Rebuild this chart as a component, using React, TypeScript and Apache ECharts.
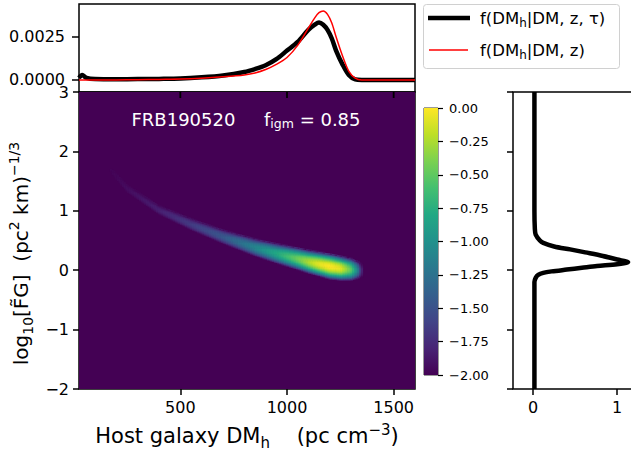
import React, { useEffect, useRef } from "react";
import * as echarts from "echarts";

const FONT = "DejaVu Sans";

// ---- top panel: f(DM_h | ...) curves ----
const topX = [25, 40, 60, 100, 200, 300, 400, 500, 600, 700, 800, 850, 900, 950, 1000, 1050, 1100, 1130, 1150, 1170, 1190, 1210, 1230, 1260, 1290, 1320, 1350, 1400, 1500, 1600];
const fWithTau = [0.00012, 0.00028, 0.00012, 0.00005, 0.00004, 0.00005, 0.00006, 0.00008, 0.00015, 0.00026, 0.00046, 0.00063, 0.00085, 0.0012, 0.0017, 0.0022, 0.0029, 0.0032, 0.00333, 0.0032, 0.0029, 0.0024, 0.0017, 0.0009, 0.00028, 0.00003, 0, 0, 0, 0];
const fNoTau = [0, 0, 0, 0, 0, 0.00001, 0.00003, 0.00005, 0.0001, 0.00018, 0.00029, 0.0004, 0.0006, 0.0009, 0.0013, 0.002, 0.003, 0.0036, 0.0039, 0.004, 0.0038, 0.0033, 0.0025, 0.0014, 0.0005, 0.0001, 0, 0, 0, 0];
const topYTicks = [0, 0.0025];
const dmTicks = [500, 1000, 1500];
const dmRange = [25, 1600];
const fgRange = [-2, 3];

// ---- right panel: marginal over log10 FG ----
const rightY = [3, 1.0, 0.7, 0.6, 0.5, 0.46, 0.4, 0.35, 0.3, 0.24, 0.18, 0.135, 0.1, 0.07, 0.04, 0.01, -0.02, -0.045, -0.08, -0.13, -0.2, -2];
const rightF = [0.015, 0.015, 0.02, 0.03, 0.08, 0.12, 0.25, 0.44, 0.62, 0.83, 1.0, 1.13, 1.0, 0.76, 0.58, 0.4, 0.22, 0.12, 0.06, 0.03, 0.015, 0.015];
const rightXTicks = [0, 1];

// ---- heatmap ridge: DM_h, centre log10 FG, peak log-density, half width to -2 ----
const ridgeX = [150, 250, 400, 550, 700, 850, 950, 1050, 1100, 1150, 1200, 1250, 1300, 1330, 1355];
const ridgeY = [1.78, 1.38, 1.02, 0.78, 0.57, 0.39, 0.29, 0.2, 0.15, 0.11, 0.07, 0.04, 0.02, 0.01, 0.0];
const ridgePeak = [-2.0, -1.93, -1.82, -1.65, -1.45, -1.1, -0.8, -0.45, -0.25, -0.08, 0, -0.08, -0.5, -1.1, -2.0];
const ridgeHalf = [0.06, 0.07, 0.08, 0.1, 0.12, 0.15, 0.17, 0.19, 0.2, 0.21, 0.22, 0.21, 0.19, 0.15, 0.1];

const colorbarRange = [-2, 0];
const VIRIDIS = ["#440154", "#482475", "#414487", "#355f8d", "#2a788e", "#21918c", "#22a884", "#44bf70", "#7ad151", "#bddf26", "#fde725"];

const HX = 8;
const HY = 0.02;

function lerp(xs: number[], ys: number[], x: number) {
  if (x <= xs[0]) return ys[0];
  for (let i = 1; i < xs.length; i++) {
    if (x <= xs[i]) {
      const t = (x - xs[i - 1]) / (xs[i] - xs[i - 1]);
      return ys[i - 1] + t * (ys[i] - ys[i - 1]);
    }
  }
  return ys[ys.length - 1];
}

function buildCells() {
  const cells: number[][] = [];
  for (let x = ridgeX[0]; x <= ridgeX[ridgeX.length - 1]; x += HX) {
    const ry = lerp(ridgeX, ridgeY, x);
    const pk = lerp(ridgeX, ridgePeak, x);
    const hw = lerp(ridgeX, ridgeHalf, x);
    for (let k = -25; k <= 120; k++) {
      const y = k * HY;
      const d = (y - ry) / hw;
      const v = pk - (pk + 2) * d * d;
      if (v > -1.985) cells.push([x, +y.toFixed(2), v]);
    }
  }
  return cells;
}

const minus = (s: string) => s.replace("-", "\u2212");

export default function App() {
  const ref = useRef<HTMLDivElement>(null);
  useEffect(() => {
    if (!ref.current) return;
    const chart = echarts.init(ref.current, undefined, { renderer: "svg" });
    const tickStyle = { color: "#000", width: 1.5 };
    const labelStyle = { color: "#000", fontFamily: FONT, fontSize: 16 };
    const noLine = { show: false, onZero: false };
    const gridBox = { show: true, borderColor: "#000", borderWidth: 1.5, backgroundColor: "transparent", outerBoundsMode: "none", containLabel: false };
    const nameRich = (size: number, small: number) => ({
      a: { fontFamily: FONT, fontSize: size, color: "#000", lineHeight: 28, verticalAlign: "middle" },
      s: { fontFamily: FONT, fontSize: small, color: "#000", lineHeight: 11, verticalAlign: "bottom" },
      p: { fontFamily: FONT, fontSize: small, color: "#000", lineHeight: 14, verticalAlign: "top" },
    });

    const option: any = {
      animation: false,
      backgroundColor: "#fff",
      textStyle: { fontFamily: FONT },
      grid: [
        { ...gridBox, left: 79, top: 4, width: 336, height: 88 },
        { ...gridBox, left: 79, top: 92, width: 336, height: 297 },
        { ...gridBox, left: 513, top: 92, width: 124, height: 297 },
        { ...gridBox, left: 424, top: 108, width: 14, height: 267, borderWidth: 0.8 },
      ],
      xAxis: [
        {
          gridIndex: 0, type: "value", min: dmRange[0], max: dmRange[1],
          axisLine: noLine, splitLine: { show: false },
          axisTick: { show: false }, axisLabel: { show: false },
        },
        {
          gridIndex: 1, type: "value", min: dmRange[0], max: dmRange[1],
          axisLine: noLine, splitLine: { show: false },
          axisTick: { show: true, customValues: dmTicks, length: 6, lineStyle: tickStyle },
          axisLabel: { ...labelStyle, customValues: dmTicks, margin: 10, formatter: (v: number) => String(v) },
          name: "{a|Host galaxy DM}{s|h}{a|    (pc cm}{p|\u22123}{a|)}",
          nameLocation: "middle", nameGap: 33,
          nameTextStyle: { rich: nameRich(21, 15) },
        },
        {
          gridIndex: 2, type: "value", min: -0.24, max: 1.236,
          axisLine: noLine, splitLine: { show: false },
          axisTick: { show: true, customValues: rightXTicks, length: 6, lineStyle: tickStyle },
          axisLabel: { ...labelStyle, customValues: rightXTicks, margin: 10, formatter: (v: number) => String(v) },
        },
        { gridIndex: 3, type: "value", min: 0, max: 1, show: false, axisLine: noLine },
      ],
      yAxis: [
        {
          gridIndex: 0, type: "value", min: -0.0007, max: 0.0044,
          axisLine: noLine, splitLine: { show: false },
          axisTick: { show: true, customValues: topYTicks, length: 7, lineStyle: tickStyle },
          axisLabel: { ...labelStyle, customValues: topYTicks, margin: 14, formatter: (v: number) => v.toFixed(4) },
        },
        {
          gridIndex: 1, type: "value", min: fgRange[0], max: fgRange[1], interval: 1,
          axisLine: noLine, splitLine: { show: false },
          axisTick: { show: true, length: 6, lineStyle: tickStyle },
          axisLabel: { ...labelStyle, margin: 10, formatter: (v: number) => minus(String(v)) },
          name: "{a|log}{s|10}{a|[F\u0303G]  (pc}{p|2}{a| km)}{p|\u22121/3}",
          nameLocation: "middle", nameRotate: 90, nameGap: 38,
          nameTextStyle: { rich: nameRich(20, 14), padding: [0, 26, 0, 0] },
        },
        {
          gridIndex: 2, type: "value", min: fgRange[0], max: fgRange[1], interval: 1,
          axisLine: noLine, splitLine: { show: false },
          axisTick: { show: true, length: 6, lineStyle: tickStyle },
          axisLabel: { show: false },
        },
        {
          gridIndex: 3, type: "value", min: -2, max: 0, interval: 0.25, position: "right",
          axisLine: noLine, splitLine: { show: false },
          axisTick: { show: true, length: 5, lineStyle: { color: "#000", width: 1.2 } },
          axisLabel: { color: "#000", fontFamily: FONT, fontSize: 13, margin: 11, formatter: (v: number) => minus(v.toFixed(2)) },
        },
      ],
      visualMap: {
        show: false, type: "continuous", seriesIndex: [3, 5], dimension: 2,
        min: colorbarRange[0], max: colorbarRange[1], inRange: { color: VIRIDIS },
      },
      series: [
        {
          type: "line", xAxisIndex: 0, yAxisIndex: 0, showSymbol: false, smooth: 0.3,
          data: topX.map((x, i) => [x, fWithTau[i]]),
          lineStyle: { color: "#000", width: 4.5 }, z: 3,
        },
        {
          type: "line", xAxisIndex: 0, yAxisIndex: 0, showSymbol: false, smooth: 0.3,
          data: topX.map((x, i) => [x, fNoTau[i]]),
          lineStyle: { color: "#ff0000", width: 1.5 }, z: 4,
        },
        {
          type: "line", xAxisIndex: 2, yAxisIndex: 2, showSymbol: false, smooth: 0.3,
          data: rightY.map((y, i) => [rightF[i], y]),
          lineStyle: { color: "#000", width: 4.5 },
        },
        {
          type: "custom", xAxisIndex: 1, yAxisIndex: 1, encode: { x: 0, y: 1 }, z: 2,
          data: buildCells(),
          renderItem: (_p: any, api: any) => {
            const x = api.value(0), y = api.value(1);
            const p1 = api.coord([x - HX / 2, y + HY / 2]);
            const p2 = api.coord([x + HX / 2, y - HY / 2]);
            return {
              type: "rect",
              shape: { x: p1[0], y: p1[1], width: p2[0] - p1[0] + 0.6, height: p2[1] - p1[1] + 0.6 },
              style: { fill: api.visual("color"), stroke: null },
            };
          },
        },
        {
          type: "custom", xAxisIndex: 3, yAxisIndex: 3, encode: { x: 0, y: 1 },
          data: [[0, colorbarRange[1], 1, colorbarRange[0]]],
          renderItem: (_p: any, api: any) => {
            const p1 = api.coord([api.value(0), api.value(1)]);
            const p2 = api.coord([api.value(2), api.value(3)]);
            return {
              type: "rect",
              shape: { x: p1[0], y: p1[1], width: p2[0] - p1[0], height: p2[1] - p1[1] },
              style: {
                fill: new echarts.graphic.LinearGradient(0, 1, 0, 0,
                  VIRIDIS.map((c, i) => ({ offset: i / (VIRIDIS.length - 1), color: c }))),
              },
            };
          },
        },
        {
          // background of the density map: the floor value -2 over the whole field
          type: "custom", xAxisIndex: 1, yAxisIndex: 1, encode: { x: 0, y: 1 }, z: 1,
          data: [[dmRange[0], fgRange[1], colorbarRange[0], dmRange[1], fgRange[0]]],
          renderItem: (_p: any, api: any) => {
            const p1 = api.coord([api.value(0), api.value(1)]);
            const p2 = api.coord([api.value(3), api.value(4)]);
            return {
              type: "rect",
              shape: { x: p1[0], y: p1[1], width: p2[0] - p1[0], height: p2[1] - p1[1] },
              style: { fill: api.visual("color") },
            };
          },
        },
        {
          // the upper panel's DM ticks, hanging below its bottom spine into the map
          type: "custom", xAxisIndex: 1, yAxisIndex: 1, encode: { x: 0, y: 1 }, z: 20, silent: true,
          data: dmTicks.map((v) => [v, fgRange[1]]),
          renderItem: (_p: any, api: any) => {
            const p = api.coord([api.value(0), api.value(1)]);
            return {
              type: "line",
              shape: { x1: p[0], y1: p[1], x2: p[0], y2: p[1] + 6 },
              style: { stroke: "#000", lineWidth: 1.8 },
            };
          },
        },
      ],
      graphic: [
        {
          type: "text", x: 246, y: 119, z: 10,
          style: {
            text: "{a|FRB190520     f}{s|igm}{a| = 0.85}",
            align: "center", verticalAlign: "middle", textAlign: "center", textVerticalAlign: "middle",
            rich: {
              a: { fontFamily: FONT, fontSize: 18, fill: "#fff", color: "#fff", lineHeight: 22, verticalAlign: "middle" },
              s: { fontFamily: FONT, fontSize: 12.5, fill: "#fff", color: "#fff", lineHeight: 9, verticalAlign: "bottom" },
            },
          },
        },
        {
          type: "rect", z: 10,
          shape: { x: 423.5, y: 4.5, width: 196, height: 64, r: 3 },
          style: { fill: "#fff", stroke: "#d0d0d0", lineWidth: 1 },
        },
        { type: "line", z: 11, shape: { x1: 428, y1: 18, x2: 470, y2: 18 }, style: { stroke: "#000", lineWidth: 4.5 } },
        { type: "line", z: 11, shape: { x1: 429, y1: 50, x2: 468, y2: 50 }, style: { stroke: "#ff0000", lineWidth: 1.5 } },
        {
          type: "text", x: 480, y: 18, z: 11,
          style: {
            text: "{a|f(DM}{s|h}{a||DM, z, \u03c4)}",
            align: "left", verticalAlign: "middle", textAlign: "left", textVerticalAlign: "middle",
            rich: {
              a: { fontFamily: FONT, fontSize: 16.5, fill: "#000", color: "#000", lineHeight: 22, verticalAlign: "middle" },
              s: { fontFamily: FONT, fontSize: 12, fill: "#000", color: "#000", lineHeight: 10, verticalAlign: "bottom" },
            },
          },
        },
        {
          type: "text", x: 480, y: 50, z: 11,
          style: {
            text: "{a|f(DM}{s|h}{a||DM, z)}",
            align: "left", verticalAlign: "middle", textAlign: "left", textVerticalAlign: "middle",
            rich: {
              a: { fontFamily: FONT, fontSize: 16.5, fill: "#000", color: "#000", lineHeight: 22, verticalAlign: "middle" },
              s: { fontFamily: FONT, fontSize: 12, fill: "#000", color: "#000", lineHeight: 10, verticalAlign: "bottom" },
            },
          },
        },
      ],
    };
    chart.setOption(option);
    return () => chart.dispose();
  }, []);
  return <div ref={ref} style={{ position: "fixed", left: 0, top: 0, width: 631, height: 453 }} />;
}
